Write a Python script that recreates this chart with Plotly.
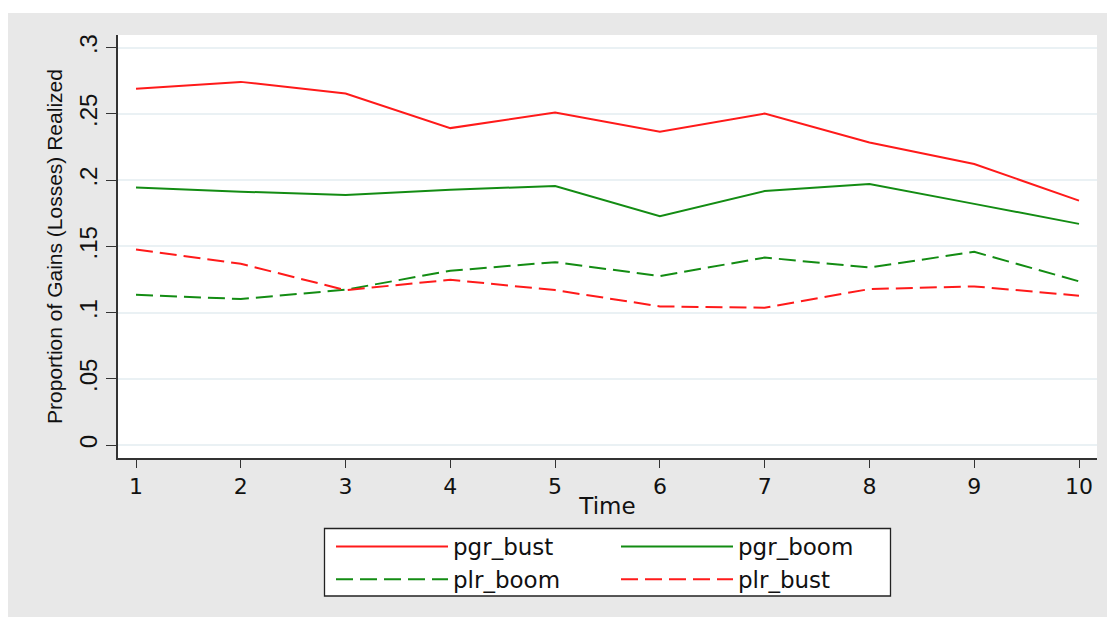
import plotly.graph_objects as go

# ---- data ----
time = [1, 2, 3, 4, 5, 6, 7, 8, 9, 10]
pgr_bust = [0.2691, 0.2742, 0.2654, 0.2393, 0.2511, 0.2365, 0.2503, 0.2285, 0.2122, 0.1846]
pgr_boom = [0.1944, 0.1913, 0.1888, 0.1928, 0.1956, 0.1728, 0.1918, 0.1971, 0.1821, 0.1670]
plr_boom = [0.1135, 0.1103, 0.1173, 0.1316, 0.1381, 0.1276, 0.1416, 0.1341, 0.1459, 0.1236]
plr_bust = [0.1477, 0.1369, 0.1170, 0.1248, 0.1170, 0.1047, 0.1037, 0.1178, 0.1198, 0.1128]

y_tickvals = [0, 0.05, 0.1, 0.15, 0.2, 0.25, 0.3]
y_ticktext = ["0", ".05", ".1", ".15", ".2", ".25", ".3"]
x_tickvals = [1, 2, 3, 4, 5, 6, 7, 8, 9, 10]

RED = "#ff1a1a"
GREEN = "#138c13"
DASH = "17px,7px"

OFF = 8  # page body margin
W, H = 1115 - OFF, 617 - OFF
L, R, T, B = 110, 18, 27, 159
pw, ph = W - L - R, H - T - B


def px_x(p):
    # p: pixel x in the 1115x617 page
    return (p - OFF - L) / pw


def px_y(p):
    return (H - B - (p - OFF)) / ph


fig = go.Figure()
fig.add_trace(go.Scatter(x=time, y=pgr_bust, mode="lines", name="pgr_bust",
                         line=dict(color=RED, width=2), legend="legend"))
fig.add_trace(go.Scatter(x=time, y=plr_boom, mode="lines", name="plr_boom",
                         line=dict(color=GREEN, width=2, dash=DASH), legend="legend"))
fig.add_trace(go.Scatter(x=time, y=pgr_boom, mode="lines", name="pgr_boom",
                         line=dict(color=GREEN, width=2), legend="legend2"))
fig.add_trace(go.Scatter(x=time, y=plr_bust, mode="lines", name="plr_bust",
                         line=dict(color=RED, width=2, dash=DASH), legend="legend2"))

legend_common = dict(
    bgcolor="rgba(0,0,0,0)", borderwidth=0,
    font=dict(family="DejaVu Sans", size=23, color="#111"),
    itemwidth=112, xanchor="left", yanchor="top", tracegroupgap=0,
    orientation="v", itemclick=False,
)

fig.update_layout(
    width=W, height=H,
    margin=dict(l=L, r=R, t=T, b=B, autoexpand=False),
    paper_bgcolor="#e8e8e8",
    plot_bgcolor="#ffffff",
    showlegend=True,
    legend=dict(x=px_x(331), y=px_y(525), **legend_common),
    legend2=dict(x=px_x(616), y=px_y(525), **legend_common),
    xaxis=dict(
        range=[0.8282, 10.1718], tickmode="array", tickvals=x_tickvals,
        showgrid=False, zeroline=False, showline=True, linecolor="#333",
        linewidth=1.6, ticks="outside", ticklen=8, tickwidth=1.4, tickcolor="#333",
        tickfont=dict(family="DejaVu Sans", size=22, color="#111"),
        title=dict(text="Time", font=dict(family="DejaVu Sans", size=23, color="#111"),
                   standoff=0),
        automargin=False,
    ),
    yaxis=dict(
        range=[-0.00974, 0.30959], tickmode="array", tickvals=y_tickvals,
        ticktext=y_ticktext, tickangle=-90,
        showgrid=True, gridcolor="#eaf1f4", gridwidth=1.5,
        zeroline=False, showline=True, linecolor="#333", linewidth=1.6,
        ticks="outside", ticklen=10, tickwidth=1.4, tickcolor="#333",
        tickfont=dict(family="Liberation Sans", size=24, color="#111"),
        title=dict(text="Proportion of Gains (Losses) Realized",
                   font=dict(family="Liberation Sans", size=21, color="#111"),
                   standoff=6),
        automargin=False,
    ),
    shapes=[
        # white strip above the grey graph region
        dict(type="rect", xref="paper", yref="paper",
             x0=px_x(0), x1=px_x(1200), y0=px_y(13), y1=px_y(0),
             fillcolor="white", line=dict(width=0), layer="below"),
        # legend box
        dict(type="rect", xref="paper", yref="paper",
             x0=px_x(324.5), x1=px_x(890.5), y0=px_y(596), y1=px_y(528.5),
             fillcolor="white", line=dict(color="#222", width=1.3), layer="below"),
    ],
)

fig.write_html("out.html")
